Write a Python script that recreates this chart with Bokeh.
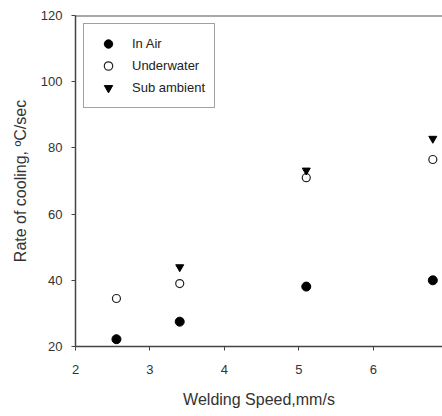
from bokeh.plotting import figure
from bokeh.models import Range1d, Legend, LegendItem, FixedTicker, Span
from bokeh.embed import file_html
from bokeh.resources import INLINE

speed_air = [2.55, 3.4, 5.1, 6.8]
rate_air = [22.2, 27.5, 38.1, 40.0]
speed_water = [2.55, 3.4, 5.1, 6.8]
rate_water = [34.5, 39.0, 71.0, 76.5]
speed_sub = [3.4, 5.1, 6.8]
rate_sub = [44.0, 73.2, 82.8]
x_ticks = [2, 3, 4, 5, 6]
y_ticks = [20, 40, 60, 80, 100, 120]

p = figure(width=442, height=416, output_backend="svg", toolbar_location=None,
           x_range=Range1d(2, 6.93), y_range=Range1d(20, 120),
           min_border_left=75, min_border_right=0, min_border_top=15, min_border_bottom=70)
p.grid.visible = False
p.outline_line_color = None
p.background_fill_color = "white"
p.border_fill_color = "white"
p.add_layout(Span(location=120, dimension="width", line_color="#555555", line_width=2))

for ax in (p.xaxis[0], p.yaxis[0]):
    ax.axis_line_color = "#444444"
    ax.axis_line_width = 1.5
    ax.major_tick_line_color = "#444444"
    ax.major_tick_in = 0
    ax.major_tick_out = 4
    ax.minor_tick_line_color = None
    ax.major_label_text_font = "Liberation Sans"
    ax.major_label_text_font_size = "13px"
    ax.major_label_text_color = "#333333"
    ax.axis_label_text_font = "Liberation Sans"
    ax.axis_label_text_font_size = "16px"
    ax.axis_label_text_font_style = "normal"
    ax.axis_label_text_color = "#333333"

p.xaxis.ticker = FixedTicker(ticks=x_ticks)
p.yaxis.ticker = FixedTicker(ticks=y_ticks)
p.xaxis.axis_label = "Welding Speed,mm/s"
p.yaxis.axis_label = "Rate of cooling, ºC/sec"
p.xaxis.major_label_standoff = 14
p.xaxis.axis_label_standoff = 14
p.yaxis.major_label_standoff = 9
p.yaxis.axis_label_standoff = 9

r1 = p.scatter(speed_air, rate_air, marker="circle", size=9, fill_color="black", line_color="black")
r2 = p.scatter(speed_water, rate_water, marker="circle", size=8, fill_color="white", line_color="#222222", line_width=1.2)
r3 = p.scatter(speed_sub, rate_sub, marker="inverted_triangle", size=8, fill_color="black", line_color="black")

legend = Legend(items=[LegendItem(label="In Air", renderers=[r1]),
                       LegendItem(label="Underwater", renderers=[r2]),
                       LegendItem(label="Sub ambient", renderers=[r3])],
                location="top_left")
legend.margin = 8
legend.padding = 9
legend.spacing = 1
legend.label_height = 21
legend.glyph_height = 21
legend.glyph_width = 30
legend.label_standoff = 9
legend.label_text_font = "Liberation Sans"
legend.label_text_font_size = "13px"
legend.label_text_color = "#222222"
legend.border_line_color = "#444444"
legend.border_line_width = 1.5
legend.background_fill_alpha = 1
p.add_layout(legend)

open("out.html", "w").write(file_html(p, INLINE))
